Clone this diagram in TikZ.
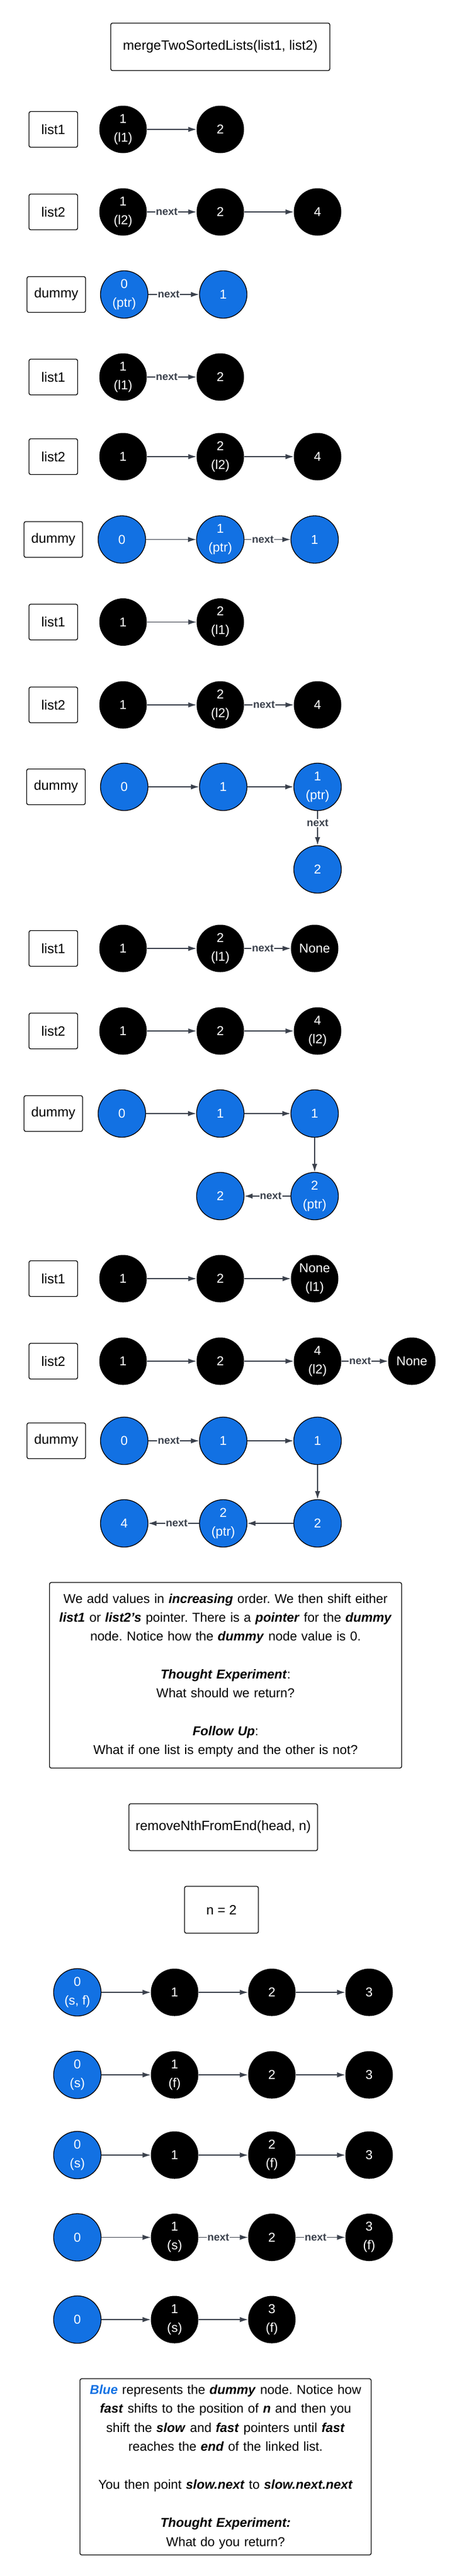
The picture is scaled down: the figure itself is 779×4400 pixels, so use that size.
\documentclass[tikz,border=0pt]{standalone}
\usepackage{fontspec}
\setmainfont{Liberation Sans}
\usetikzlibrary{arrows.meta}
\definecolor{dummyblue}{HTML}{1271E3}
\definecolor{edgegray}{HTML}{3B414C}
\newcommand{\bi}[1]{\textbf{\textit{#1}}}
\frenchspacing

\begin{document}
\begin{tikzpicture}[x=1pt,y=-1pt]
\useasboundingbox (0,0) rectangle (779,4400);

\tikzset{vertex/.style = {shape=circle,fill=black,text=white,minimum size=81pt,inner sep=0pt,align=center,font=\fontsize{22}{32}\selectfont}}
\tikzset{dvertex/.style = {vertex,fill=dummyblue,draw=black,line width=1.3pt}}
\tikzset{edge/.style = {->,> = {Latex[length=14pt,width=9pt]},draw=edgegray,line width=1.3pt}}
\tikzset{box/.style = {draw,rounded corners=3pt,line width=1.3pt,minimum height=61pt,font=\fontsize{23}{28}\selectfont}}
\tikzset{lbox/.style = {box,minimum width=83pt}}
\tikzset{dbox/.style = {box,minimum width=100pt}}
\tikzset{nxt/.style = {fill=white,text=edgegray,inner sep=1pt,font=\bfseries\fontsize{18}{20}\selectfont}}

%titles
\node[box, minimum width=374pt, minimum height=81pt] (t1) at (376,80) {mergeTwoSortedLists(list1, list2)};

%verticies
\node[lbox] (a1) at (91,221) {list1};
\node[vertex] (a11) at (210,221) {1\\(l1)};
\node[vertex] (a12) at (376,221) {2};
\node[lbox] (a2) at (91,362) {list2};
\node[vertex] (a21) at (210,362) {1\\(l2)};
\node[vertex] (a22) at (376,362) {2};
\node[vertex] (a23) at (542,362) {4};
\node[dbox] (a3) at (96,503) {dummy};
\node[dvertex] (a31) at (212,503) {0\\(ptr)};
\node[dvertex] (a32) at (381,503) {1};
%edges
\draw [edge] (a11) -- (a12);
\draw [edge] (a21) -- (a22) node [nxt, pos=0.4] {next};
\draw [edge] (a22) -- (a23);
\draw [edge] (a31) -- (a32) node [nxt, pos=0.4] {next};

%verticies
\node[lbox] (b1) at (91,644) {list1};
\node[vertex] (b11) at (210,644) {1\\(l1)};
\node[vertex] (b12) at (376,644) {2};
\node[lbox] (b2) at (91,780) {list2};
\node[vertex] (b21) at (210,780) {1};
\node[vertex] (b22) at (376,780) {2\\(l2)};
\node[vertex] (b23) at (542,780) {4};
\node[dbox] (b3) at (91,921.5) {dummy};
\node[dvertex] (b31) at (208,921.5) {0};
\node[dvertex] (b32) at (376,921.5) {1\\(ptr)};
\node[dvertex] (b33) at (537,921.5) {1};
%edges
\draw [edge] (b11) -- (b12) node [nxt, pos=0.4] {next};
\draw [edge] (b21) -- (b22);
\draw [edge] (b22) -- (b23);
\draw [edge] (b31) -- (b32);
\draw [edge] (b32) -- (b33) node [nxt, pos=0.4] {next};

%verticies
\node[lbox] (c1) at (91,1062.5) {list1};
\node[vertex] (c11) at (210,1062.5) {1};
\node[vertex] (c12) at (376,1062.5) {2\\(l1)};
\node[lbox] (c2) at (91,1204) {list2};
\node[vertex] (c21) at (210,1204) {1};
\node[vertex] (c22) at (376,1204) {2\\(l2)};
\node[vertex] (c23) at (542,1204) {4};
\node[dbox] (c3) at (95.5,1344) {dummy};
\node[dvertex] (c31) at (212,1344) {0};
\node[dvertex] (c32) at (381,1344) {1};
\node[dvertex] (c33) at (542,1344) {1\\(ptr)};
\node[dvertex] (c34) at (542,1485) {2};
%edges
\draw [edge] (c11) -- (c12);
\draw [edge] (c21) -- (c22);
\draw [edge] (c22) -- (c23) node [nxt, pos=0.4] {next};
\draw [edge] (c31) -- (c32);
\draw [edge] (c32) -- (c33);
\draw [edge] (c33) -- (c34) node [nxt, pos=0.35] {next};

%verticies
\node[lbox] (d1) at (91,1620) {list1};
\node[vertex] (d11) at (210,1620) {1};
\node[vertex] (d12) at (376,1620) {2\\(l1)};
\node[vertex] (d13) at (537,1620) {None};
\node[lbox] (d2) at (91,1761) {list2};
\node[vertex] (d21) at (210,1761) {1};
\node[vertex] (d22) at (376,1761) {2};
\node[vertex] (d23) at (542,1761) {4\\(l2)};
\node[dbox] (d3) at (91,1902) {dummy};
\node[dvertex] (d31) at (208,1902) {0};
\node[dvertex] (d32) at (376,1902) {1};
\node[dvertex] (d33) at (537,1902) {1};
\node[dvertex] (d34) at (537,2043) {2\\(ptr)};
\node[dvertex] (d35) at (376,2043) {2};
%edges
\draw [edge] (d11) -- (d12);
\draw [edge] (d12) -- (d13) node [nxt, pos=0.4] {next};
\draw [edge] (d21) -- (d22);
\draw [edge] (d22) -- (d23);
\draw [edge] (d31) -- (d32);
\draw [edge] (d32) -- (d33);
\draw [edge] (d33) -- (d34);
\draw [edge] (d34) -- (d35) node [nxt, pos=0.43] {next};

%verticies
\node[lbox] (e1) at (91,2184) {list1};
\node[vertex] (e11) at (210,2184) {1};
\node[vertex] (e12) at (376,2184) {2};
\node[vertex] (e13) at (537,2184) {None\\(l1)};
\node[lbox] (e2) at (91,2325) {list2};
\node[vertex] (e21) at (210,2325) {1};
\node[vertex] (e22) at (376,2325) {2};
\node[vertex] (e23) at (542,2325) {4\\(l2)};
\node[vertex] (e24) at (703,2325) {None};
\node[dbox] (e3) at (96,2461) {dummy};
\node[dvertex] (e31) at (212,2461) {0};
\node[dvertex] (e32) at (381,2461) {1};
\node[dvertex] (e33) at (542,2461) {1};
\node[dvertex] (e34) at (542,2602) {2};
\node[dvertex] (e35) at (381,2602) {2\\(ptr)};
\node[dvertex] (e36) at (212,2602) {4};
%edges
\draw [edge] (e11) -- (e12);
\draw [edge] (e12) -- (e13);
\draw [edge] (e21) -- (e22);
\draw [edge] (e22) -- (e23);
\draw [edge] (e23) -- (e24) node [nxt, pos=0.4] {next};
\draw [edge] (e31) -- (e32) node [nxt, pos=0.4] {next};
\draw [edge] (e32) -- (e33);
\draw [edge] (e33) -- (e34);
\draw [edge] (e34) -- (e35);
\draw [edge] (e35) -- (e36) node [nxt, pos=0.44] {next};

%notes
\node[box, inner sep=0pt, text width=601pt, minimum height=317pt, align=center, font=\fontsize{22}{32.3}\selectfont] (note1) at (385,2861.5) {We add values in \bi{increasing} order. We then shift either\\
\bi{list1} or \bi{list2's} pointer. There is a \bi{pointer} for the \bi{dummy}\\
node. Notice how the \bi{dummy} node value is 0.\\[32.3pt]
\bi{Thought Experiment}:\\
What should we return?\\[32.3pt]
\bi{Follow Up}:\\
What if one list is empty and the other is not?};

\node[box, minimum width=322pt, minimum height=80pt] (t2) at (381,3121) {removeNthFromEnd(head, n)};
\node[box, minimum width=126pt, minimum height=80pt] (n) at (378,3262) {n = 2};

%verticies
\node[dvertex] (f11) at (132,3403) {0\\(s, f)};
\node[vertex] (f12) at (298,3403) {1};
\node[vertex] (f13) at (464,3403) {2};
\node[vertex] (f14) at (630,3403) {3};
\node[dvertex] (f21) at (132,3544) {0\\(s)};
\node[vertex] (f22) at (298,3544) {1\\(f)};
\node[vertex] (f23) at (464,3544) {2};
\node[vertex] (f24) at (630,3544) {3};
\node[dvertex] (f31) at (132,3681) {0\\(s)};
\node[vertex] (f32) at (298,3681) {1};
\node[vertex] (f33) at (464,3681) {2\\(f)};
\node[vertex] (f34) at (630,3681) {3};
\node[dvertex] (f41) at (132,3821.5) {0};
\node[vertex] (f42) at (298,3821.5) {1\\(s)};
\node[vertex] (f43) at (464,3821.5) {2};
\node[vertex] (f44) at (630,3821.5) {3\\(f)};
\node[dvertex] (f51) at (132,3962) {0};
\node[vertex] (f52) at (298,3962) {1\\(s)};
\node[vertex] (f53) at (464,3962) {3\\(f)};
%edges
\draw [edge] (f11) -- (f12);
\draw [edge] (f12) -- (f13);
\draw [edge] (f13) -- (f14);
\draw [edge] (f21) -- (f22);
\draw [edge] (f22) -- (f23);
\draw [edge] (f23) -- (f24);
\draw [edge] (f31) -- (f32);
\draw [edge] (f32) -- (f33);
\draw [edge] (f33) -- (f34);
\draw [edge] (f41) -- (f42);
\draw [edge] (f42) -- (f43) node [nxt, pos=0.4] {next};
\draw [edge] (f43) -- (f44) node [nxt, pos=0.4] {next};
\draw [edge] (f51) -- (f52);
\draw [edge] (f52) -- (f53);

%notes
\node[box, inner sep=0pt, text width=497pt, minimum height=301pt, align=center, font=\fontsize{22}{32.5}\selectfont] (note2) at (385,4213.5) {\textcolor{dummyblue}{\bi{Blue}} represents the \bi{dummy} node. Notice how\\
\bi{fast} shifts to the position of \bi{n} and then you\\
shift the \bi{slow} and \bi{fast} pointers until \bi{fast}\\
reaches the \bi{end} of the linked list.\\[32.5pt]
You then point \bi{slow.next} to \bi{slow.next.next}\\[32.5pt]
\bi{Thought Experiment:}\\
What do you return?};

\end{tikzpicture}
\end{document}
